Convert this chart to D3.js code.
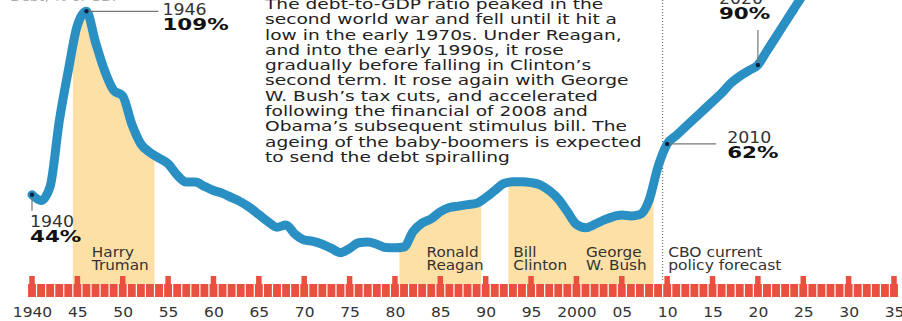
<!DOCTYPE html>
<html>
<head>
<meta charset="utf-8">
<script src="https://cdn.jsdelivr.net/npm/d3@7"></script>
<style>
  body { margin: 0; background: #fff; }
  svg { display: block; font-family: "DejaVu Sans", sans-serif; }
</style>
</head>
<body>
<div id="chart"></div>
<script>
// debt as % of GDP (2011 onwards is the CBO forecast)
var years = d3.range(1940, 2027);
var debt = [
  44, 42, 47, 70, 88, 104, 109, 98, 88, 81,            // 1940s
  79, 69, 62, 59, 57, 55, 51, 48.5, 48.5, 47,          // 1950s
  45.5, 44.5, 43, 41.5, 39.5, 37, 34.5, 32.5, 33.3, 30, // 1960s
  28, 27.5, 26.5, 25, 23.5, 25, 27, 27.3, 26.5, 25.3,  // 1970s
  25.2, 25.5, 31, 34, 35.5, 38, 39.5, 40, 40.5, 41,    // 1980s
  43, 45.5, 48, 48.6, 48.6, 48.3, 47.5, 45.5, 42.5, 38, // 1990s
  33.5, 32.3, 33.5, 35, 36.2, 36.8, 36.5, 37, 42, 54,  // 2000s
  62, 65, 68, 71, 74, 77, 80, 83.5, 86, 88,            // 2010s
  90, 95, 100, 105, 110, 115, 120                      // 2020s
];

var presidents = ["Harry|Truman", "Ronald|Reagan", "Bill|Clinton", "George|W. Bush"];
var termStart = [1945, 1981, 1993, 2001];
var termEnd = [1953, 1989, 2000, 2008];

var callouts = [
  {year: 1940, value: 44},
  {year: 1946, value: 109},
  {year: 2010, value: 62},
  {year: 2020, value: 90}
];

var tickYears = d3.range(1940, 2036, 5);
var rulerYears = d3.range(1940, 2036);

var noteLines = [
  "The debt-to-GDP ratio peaked in the",
  "second world war and fell until it hit a",
  "low in the early 1970s. Under Reagan,",
  "and into the early 1990s, it rose",
  "gradually before falling in Clinton\u2019s",
  "second term. It rose again with George",
  "W. Bush\u2019s tax cuts, and accelerated",
  "following the financial of 2008 and",
  "Obama\u2019s subsequent stimulus bill. The",
  "ageing of the baby-boomers is expected",
  "to send the debt spiralling"
];

var data = years.map(function(d, i) { return {year: d, value: debt[i]}; });

var width = 902, height = 321;

var x = d3.scaleLinear().domain([1940, 2035]).range([32, 894]);
var y = d3.scaleLinear().domain([0, 113]).range([319, 0]);
var bandBottom = 284;

var svg = d3.select("#chart").append("svg")
    .attr("width", width)
    .attr("height", height);

// the original type is stretched sideways, so text is drawn with a scaleX
function label(px, py, sx, size) {
  return svg.append("text")
      .attr("transform", "translate(" + px + "," + py + ") scale(" + sx + ",1)")
      .style("font-size", size + "px")
      .style("fill", "#333");
}

// headline cut off by the top edge
label(10, 0.5, 1.1, 13).style("fill", "#aaa").text("Debt, % of GDP");

// clip the shaded area to each presidency
var clip = svg.append("defs").append("clipPath").attr("id", "terms");
presidents.forEach(function(p, i) {
  clip.append("rect")
      .attr("x", x(termStart[i] - 0.5))
      .attr("y", 0)
      .attr("width", x(termEnd[i] + 0.5) - x(termStart[i] - 0.5))
      .attr("height", bandBottom);
});

var area = d3.area()
    .curve(d3.curveMonotoneX)
    .x(function(d) { return x(d.year); })
    .y0(bandBottom)
    .y1(function(d) { return y(d.value); });

svg.append("path")
    .datum(data)
    .attr("clip-path", "url(#terms)")
    .attr("fill", "#fde0a6")
    .attr("d", area);

// president names
presidents.forEach(function(p, i) {
  var t = label(x(termStart[i] - 0.5) + (i == 0 ? 19 : i == 1 ? 27 : 5), 257, 1.13, 13.5);
  p.split("|").forEach(function(s, j) {
    t.append("tspan").attr("x", 0).attr("dy", j ? 13.5 : 0).text(s);
  });
});

// forecast divider
svg.append("line")
    .attr("x1", x(2009.5)).attr("x2", x(2009.5))
    .attr("y1", 0).attr("y2", bandBottom - 4)
    .attr("stroke", "#555").attr("stroke-width", 1)
    .attr("stroke-dasharray", "1,2");

var fc = label(x(2010) + 1, 257, 1.15, 13.5);
fc.append("tspan").attr("x", 0).text("CBO current");
fc.append("tspan").attr("x", 0).attr("dy", 13.5).text("policy forecast");

// explanatory note
var note = label(265, 9, 1.33, 14).style("fill", "#222");
note.selectAll("tspan")
    .data(noteLines)
  .enter().append("tspan")
    .attr("x", 0)
    .attr("dy", function(d, i) { return i ? 15.3 : 0; })
    .text(function(d) { return d; });

// the debt line
var valueline = d3.line()
    .curve(d3.curveMonotoneX)
    .x(function(d) { return x(d.year); })
    .y(function(d) { return y(d.value); });

svg.append("path")
    .datum(data)
    .attr("fill", "none")
    .attr("stroke", "#2a90c4")
    .attr("stroke-width", 9)
    .attr("stroke-linecap", "round")
    .attr("stroke-linejoin", "round")
    .attr("d", valueline);

// callout leaders, dots and labels
var lead = [
  {dx1: 0, dy1: 3, dx2: 0, dy2: 16, lx: -2, ly: 32},
  {dx1: 2, dy1: 0, dx2: 72, dy2: 0, lx: 76, ly: 4},
  {dx1: 2, dy1: 0, dx2: 49, dy2: 0, lx: 60, ly: -1},
  {dx1: 0, dy1: -3, dx2: 0, dy2: -35, lx: -39, ly: -61}
];
callouts.forEach(function(c, i) {
  var cx = x(c.year), cy = y(c.value), L = lead[i];
  svg.append("line")
      .attr("x1", cx + L.dx1).attr("y1", cy + L.dy1)
      .attr("x2", cx + L.dx2).attr("y2", cy + L.dy2)
      .attr("stroke", "#777").attr("stroke-width", 1.2);
  svg.append("circle")
      .attr("cx", cx).attr("cy", cy).attr("r", 2.2)
      .attr("fill", "#0b2239");
  label(cx + L.lx, cy + L.ly, 1.12, 15.5).text(c.year);
  label(cx + L.lx, cy + L.ly + 15, 1.3, 16.5)
      .style("font-weight", "bold").style("fill", "#111")
      .text(c.value + "%");
});

// year ruler
var step = x(1941) - x(1940);
svg.append("g").selectAll("rect")
    .data(rulerYears)
  .enter().append("rect")
    .attr("x", function(d) { return x(d) - step / 2 + 0.6; })
    .attr("y", 284)
    .attr("width", step - 1.2)
    .attr("height", 13)
    .attr("fill", "#e9503f");

svg.append("g").selectAll("rect")
    .data(tickYears)
  .enter().append("rect")
    .attr("x", function(d) { return x(d) - 2.75; })
    .attr("y", 276)
    .attr("width", 5.5)
    .attr("height", 21)
    .attr("fill", "#e9503f");

// axis labels
var axis = svg.append("g")
    .attr("transform", "translate(0,303)")
    .call(d3.axisBottom(x)
      .tickValues(tickYears)
      .tickSize(0)
      .tickPadding(0)
      .tickFormat(function(d) { return (d == 1940 || d == 2000) ? d : d3.format("02")(d % 100); }));
axis.select(".domain").remove();
// scaling happens about the tick origin, so each label stays centred
axis.selectAll("text")
    .attr("dy", "0.95em")
    .attr("transform", "scale(1.07,1)")
    .style("font-family", "DejaVu Sans, sans-serif")
    .style("font-size", "14.5px")
    .style("fill", "#333");
</script>
</body>
</html>
